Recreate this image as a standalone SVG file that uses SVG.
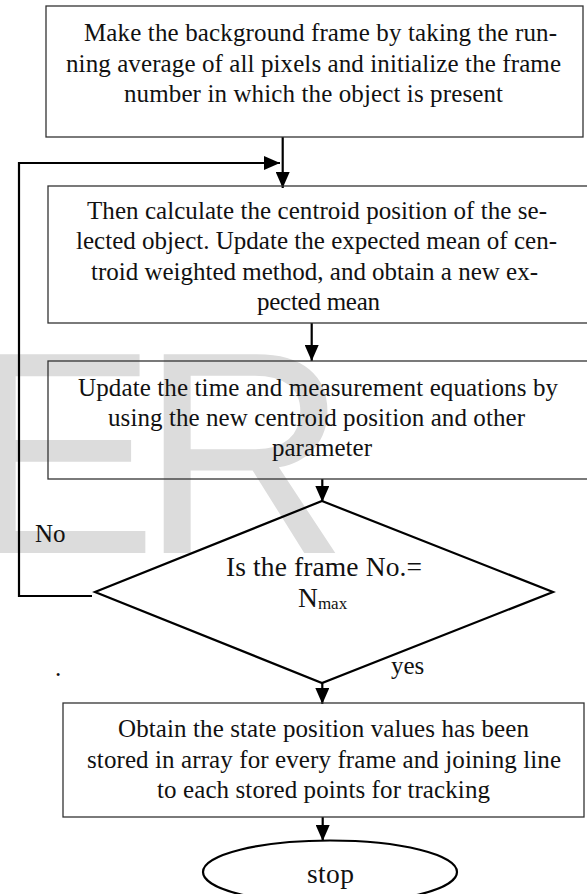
<svg xmlns="http://www.w3.org/2000/svg" width="587" height="894" viewBox="0 0 587 894">
<style>
.box{fill:none;stroke:#333;stroke-width:1.3}
.shape{fill:none;stroke:#000;stroke-width:2.2}
.conn{fill:none;stroke:#000;stroke-width:2.2}
.t{font-family:"Liberation Serif","Times New Roman",serif;font-size:25px;fill:#111}
.big{font-size:27.5px}
.wm{font-family:"Liberation Sans",Arial,sans-serif;font-size:289px;fill:#dcdcdc}
</style>
<defs>
<marker id="ah" viewBox="0 0 16 14" refX="16" refY="7" markerWidth="16" markerHeight="14" markerUnits="userSpaceOnUse" orient="auto">
<path d="M0,0 L16,7 L0,14 Z" fill="#000"/>
</marker>
</defs>
<rect width="587" height="894" fill="#fff"/>
<text class="wm" y="553"><tspan x="-35">E</tspan><tspan x="140">R</tspan></text>

<g id="connectors">
<line class="conn" x1="282.7" y1="137" x2="282.7" y2="188" marker-end="url(#ah)"/>
<polyline class="conn" points="92,596 19,596 19,163 280,163" marker-end="url(#ah)"/>
<line class="conn" x1="311.7" y1="323" x2="311.7" y2="361" marker-end="url(#ah)"/>
<line class="conn" x1="322.3" y1="479" x2="322.3" y2="502" marker-end="url(#ah)"/>
<line class="conn" x1="322.3" y1="683" x2="322.3" y2="704" marker-end="url(#ah)"/>
<line class="conn" x1="322.7" y1="817" x2="322.7" y2="841" marker-end="url(#ah)"/>
<text class="t" x="35" y="542">No</text>
<text class="t" x="391" y="674">yes</text>
<text class="t" x="55" y="676">.</text>
</g>

<g id="box1">
<rect class="box" x="46" y="6" width="537" height="131"/>
<text class="t" x="84" y="41" textLength="473" lengthAdjust="spacing">Make the background frame by taking the run-</text>
<text class="t" x="66" y="72" textLength="495" lengthAdjust="spacing">ning average of all pixels and initialize the frame</text>
<text class="t" x="124" y="102" textLength="379" lengthAdjust="spacing">number in which the object is present</text>
</g>

<g id="box2">
<rect class="box" x="48" y="186" width="560" height="137"/>
<text class="t" x="87" y="219" textLength="460" lengthAdjust="spacing">Then calculate the centroid position of the se-</text>
<text class="t" x="76" y="249" textLength="481" lengthAdjust="spacing">lected object. Update the expected mean of cen-</text>
<text class="t" x="91" y="280" textLength="447" lengthAdjust="spacing">troid weighted method, and obtain a new ex-</text>
<text class="t" x="257" y="310" textLength="123" lengthAdjust="spacing">pected mean</text>
</g>

<g id="box3">
<rect class="box" x="48" y="361" width="560" height="118"/>
<text class="t" x="78" y="396" textLength="480" lengthAdjust="spacing">Update the time and measurement equations by</text>
<text class="t" x="108" y="426" textLength="417" lengthAdjust="spacing">using the new centroid position and other</text>
<text class="t" x="272" y="456" textLength="100" lengthAdjust="spacing">parameter</text>
</g>

<g id="decision">
<polygon class="shape" points="322,501 553,592 322,683 95,592"/>
<text class="t big" x="226" y="576" textLength="196" lengthAdjust="spacing">Is the frame No.=</text>
<text class="t big" x="298" y="607">N<tspan style="font-size:17px" dy="2">max</tspan></text>
</g>

<g id="box4">
<rect class="box" x="63" y="703" width="521" height="114"/>
<text class="t" x="118" y="737" textLength="411" lengthAdjust="spacing">Obtain the state position values has been</text>
<text class="t" x="87" y="768" textLength="474" lengthAdjust="spacing">stored in array for every frame and joining line</text>
<text class="t" x="157" y="798" textLength="333" lengthAdjust="spacing">to each stored points for tracking</text>
</g>

<g id="stop">
<ellipse class="shape" cx="330" cy="872" rx="127" ry="31.5"/>
<text class="t big" x="307" y="883" textLength="47" lengthAdjust="spacing">stop</text>
</g>
</svg>
